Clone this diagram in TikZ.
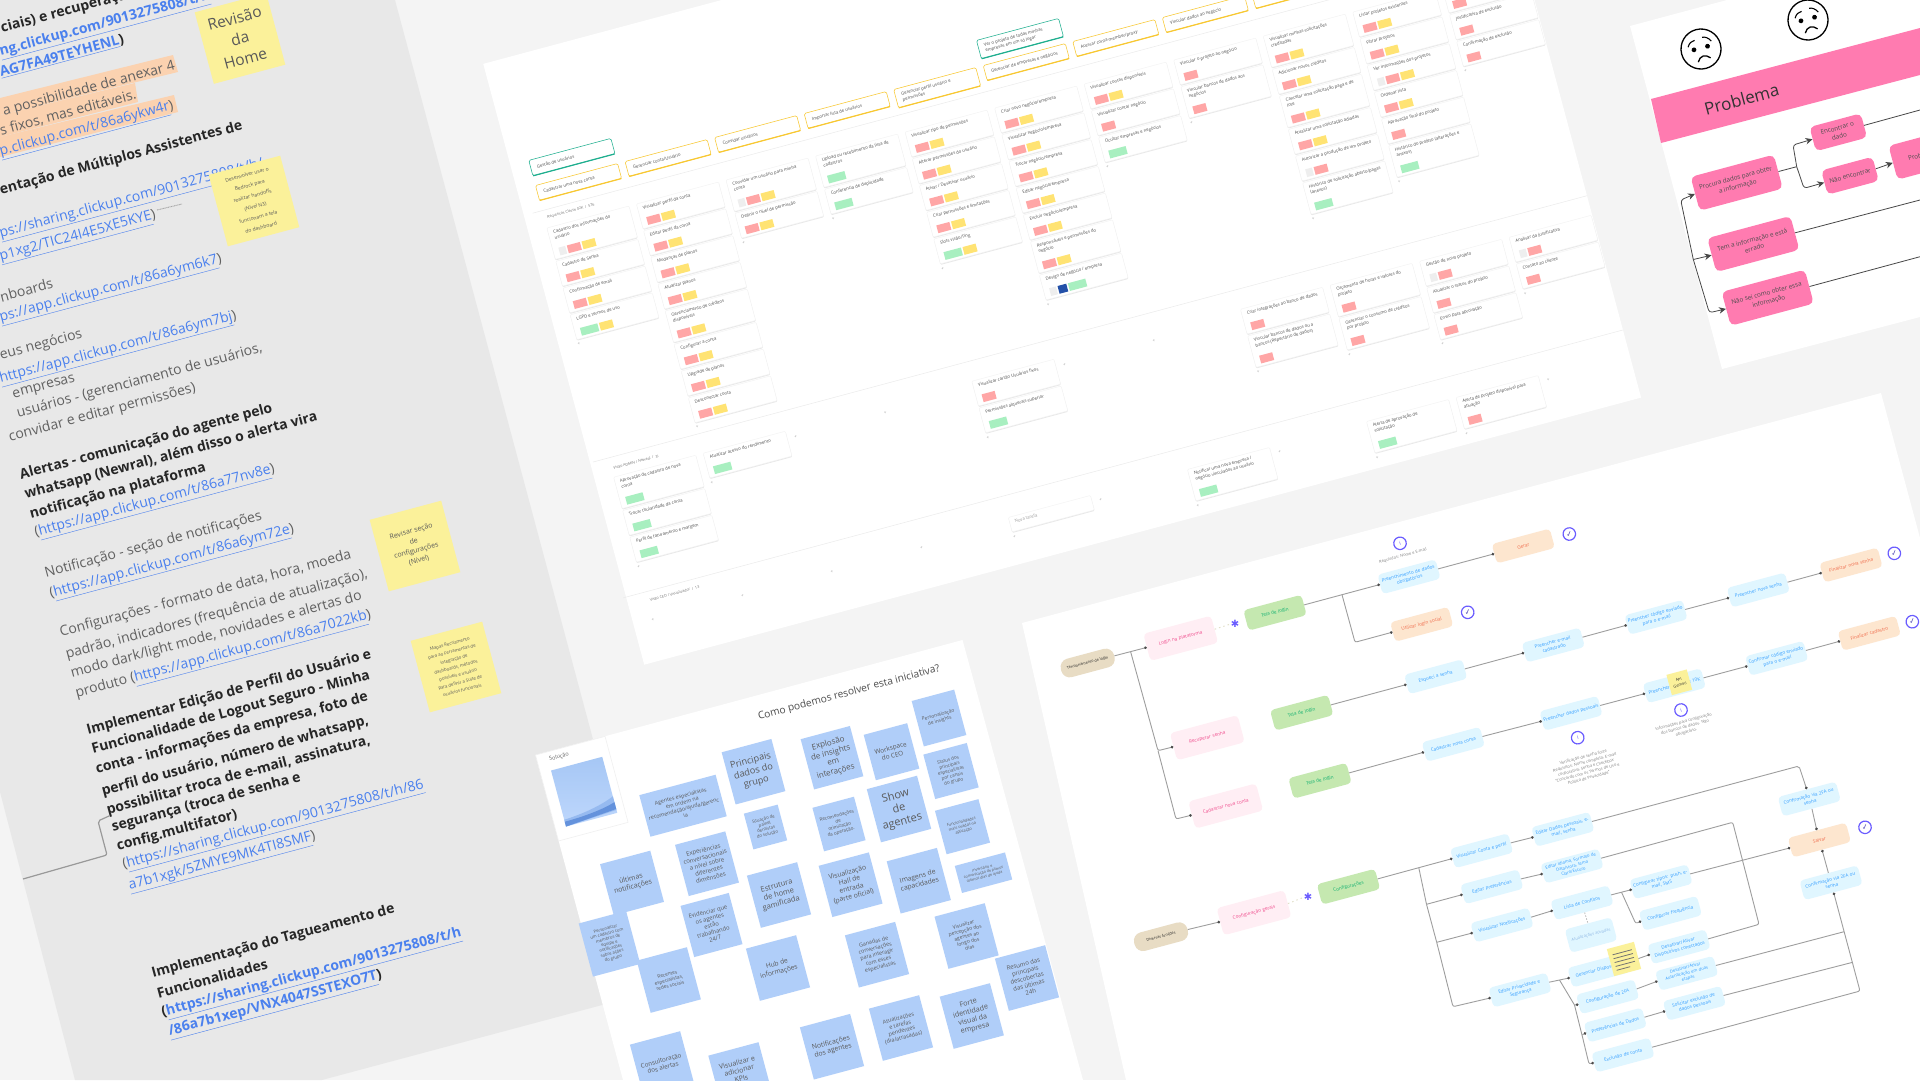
\documentclass[tikz,border=0pt]{standalone}
\usepackage{fontspec}
\setmainfont{Open Sans}
\newfontfamily\djv{DejaVu Sans}
\usetikzlibrary{arrows.meta,calc}
\newcommand\fs[2]{\fontsize{#1}{#2}\selectfont}
\definecolor{bgc}{HTML}{F4F4F4}
\definecolor{docg}{HTML}{E8E8E8}
\definecolor{tred}{HTML}{FFA6A6}
\definecolor{tyel}{HTML}{FFE373}
\definecolor{tgrn}{HTML}{A8EFC0}
\definecolor{tblu}{HTML}{2350A8}
\definecolor{tgry}{HTML}{EEEEEE}
\definecolor{stky}{HTML}{FBF19A}
\definecolor{sblu}{HTML}{B0CEF9}
\definecolor{lnk}{HTML}{4A80EE}
\definecolor{hlo}{HTML}{FBD2B0}
\definecolor{ppk}{HTML}{FF7BB0}
\definecolor{fvio}{HTML}{6A5CFF}
\newcommand\lk[1]{$\underline{\hbox{#1}}$}
\newcounter{dn}\newcounter{kc}\newcounter{bs}\newcounter{kp}
\newcommand\dl[4]{\stepcounter{dn}\node[doctext,#3] (dl\number\value{dn}) at (#1,#2) {#4};}
\newcommand\kcol[2]{\pgfmathparse{92.7*(#1-1)}\xdef\ku{\pgfmathresult}\xdef\kv{#2}}
\newcommand\tagbox[2]{\fill[fill=#1] (\ku+\tx,\ty) rectangle (\ku+\tx+#2,\ty+8);\pgfmathparse{\tx+#2+1.7}\xdef\tx{\pgfmathresult}}
\newcommand\tG{\tagbox{tgry}{7}}
\newcommand\tR{\tagbox{tred}{13.5}}
\newcommand\tY{\tagbox{tyel}{13.5}}
\newcommand\tN{\tagbox{tgrn}{18}}
\newcommand\tB{\tagbox{tblu}{9}}
\newcommand\kcard[3]{\stepcounter{kc}%
\ifcase#1\def\kh{15}\or\def\kh{25.7}\or\def\kh{32.5}\fi
\fill[kshadow] (\ku,\kv+1) rectangle (\ku+85,\kv+\kh+1);
\filldraw[kcardbox] (\ku,\kv) rectangle (\ku+85,\kv+\kh);
\node[ktext] (kt\number\value{kc}) at (\ku+5,\kv+3.5) {#2};
\xdef\tx{6}\pgfmathparse{\kv+\kh-10.5}\xdef\ty{\pgfmathresult}
#3
\pgfmathparse{\kv+\kh+2}\xdef\kv{\pgfmathresult}}
\newcommand\kend{\stepcounter{kp}\node[kplus] (kp\number\value{kp}) at (\ku+1,\kv+3) {+};}
\newcommand\kempty[2]{\kcol{#1}{#2}\kend}
\newcommand\khead[5]{\stepcounter{kc}%
\pgfmathparse{92.7*(#1-1)}\xdef\hu{\pgfmathresult}
\filldraw[headbox,draw=#5] (\hu,#2) rectangle (\hu+85,#2+#3);
\draw[draw=#5,line width=1.2,line cap=round] (\hu+.5,#2+#3) -- (\hu+84.5,#2+#3);
\node[htext] (kh\number\value{kc}) at (\hu+6,#2+#3/2) {#4};}
\newcommand\bst[6]{\stepcounter{bs}\node[bsticky,minimum width=#3,minimum height=#4,font=\fs{#5}{\dimexpr#5pt*6/5\relax}] (bs\number\value{bs}) at (#1,#2) {#6};}
\newcommand\face[3]{\begin{scope}[shift={(#2,#3)},rotate=15]
\draw[line width=1.3,fill=white] (0,0) circle (20);
\fill (-7,-1) circle (2.4); \fill (7,-1) circle (2.4);
\draw[line width=1.1] (-12,-5) .. controls (-10,-9) and (-7,-10) .. (-4,-10);
\draw[line width=1.1] (4,-11) .. controls (7,-11) and (10,-9) .. (12,-5);
\draw[line width=1.3] (-6,12) .. controls (-3,6) and (3,6) .. (7,11);
\node[inner sep=0] (#1) at (0,0) {};
\end{scope}}
\tikzset{
 doctext/.style={anchor=west,rotate=15,inner sep=0,font=\fs{14}{16}},
 dreg/.style={text=black!62},
 dbold/.style={text=black!85,font=\fs{14}{16}\bfseries},
 dlink/.style={text=lnk},
 dblink/.style={text=lnk,font=\fs{14}{16}\bfseries},
 ysticky/.style={rotate=15,fill=stky,minimum width=74,minimum height=74,inner sep=3,align=center,text=black!65},
 kshadow/.style={fill=black!9,rounded corners=1},
 kcardbox/.style={fill=white,draw=black!5,line width=.4,rounded corners=1},
 ktext/.style={anchor=north west,inner sep=0,transform shape,align=left,text=black!70,font=\fs{4.3}{5.8}},
 kplus/.style={inner sep=0,transform shape,text=black!35,font=\fs{4.5}{5}},
 klabel/.style={anchor=west,inner sep=0,transform shape,text=black!55,font=\fs{3.7}{4.5}},
 headbox/.style={fill=white,line width=.55,rounded corners=1.5},
 htext/.style={anchor=west,inner sep=0,transform shape,align=left,text=black!70,font=\fs{4.3}{5.8}},
 bsticky/.style={rotate=15,fill=sblu,inner sep=1,align=center,text=black!65},
 fbase/.style={rotate=15,rounded corners=4,inner sep=.5,align=center,text width=59},
 fpink/.style={fbase,fill={rgb,255:red,255;green,238;blue,244},minimum width=70,minimum height=28,text={rgb,255:red,240;green,72;blue,138},text width=64,font=\fs{4.7}{6}},
 fgreen/.style={fbase,fill={rgb,255:red,197;green,232;blue,176},minimum width=60,minimum height=21,text={rgb,255:red,16;green,176;blue,112},font=\fs{4.7}{6}},
 fblue/.style={fbase,fill={rgb,255:red,224;green,246;blue,255},minimum width=60,minimum height=20,text={rgb,255:red,46;green,155;blue,255},font=\fs{4.6}{6}},
 forange/.style={fbase,fill={rgb,255:red,253;green,230;blue,207},minimum width=60,minimum height=20,text={rgb,255:red,240;green,106;blue,74},font=\fs{4.7}{6}},
 ftan/.style={rotate=15,rounded corners=8.5,fill={rgb,255:red,232;green,220;blue,196},minimum width=55,minimum height=19,inner sep=1,align=center,text=black!85,font=\fs{3.8}{4.6}},
 ficon/.style={rotate=15,circle,draw=fvio,line width=1.2,fill=white,minimum size=12.5,inner sep=0,text=fvio,font=\fs{5.5}{6}},
 fchk/.style={ficon,text=fvio!70!black,font=\djv\bfseries\fs{7.5}{8}},
 fstar/.style={inner sep=0,text=fvio,font=\djv\fs{10}{10}},
 fnote/.style={rotate=15,inner sep=0,align=center,text=black!50,font=\fs{4}{5.4}},
 fl/.style={draw=black!38,line width=.9,rounded corners=2,-{Circle[length=2.6pt,width=2.6pt,color=black!70]}},
 fln/.style={draw=black!38,line width=.9,rounded corners=2},
 fdash/.style={draw=yellow!45!black!25,line width=.9,dash pattern=on 1.5pt off 3pt},
 pnode/.style={rotate=15,fill=ppk,rounded corners=5,minimum width=86,minimum height=35,inner sep=1,align=center,text=black!70,font=\fs{6.3}{8.6}},
 psmall/.style={pnode,minimum width=53,minimum height=25},
 pa/.style={draw=black!72,line width=.8,rounded corners=3,-{Stealth[length=7pt,width=6.5pt]}},
 pl/.style={draw=black!72,line width=.8,rounded corners=3},
}
\begin{document}
\begin{tikzpicture}[x=1pt,y=-1pt]
\useasboundingbox (0,0) rectangle (1920,1080);
\fill[bgc] (0,0) rectangle (1920,1080);
%% ---------- document panel
\fill[docg] (0,0) -- (395,0) -- (660,989.5) -- (322,1080) -- (75,1080) -- (0,792) -- cycle;
\fill[hlo] (0,98) -- (173,55) -- (178,72) -- (0,115) -- cycle;
\fill[hlo] (0,115) -- (135,83) -- (138,102) -- (0,137) -- cycle;
\fill[hlo] (0,137) -- (174,95) -- (178,112) -- (0,157) -- cycle;
\dl{1}{29}{dbold}{ciais) e recuperação}
\dl{0}{53}{dblink}{\lk{ng.clickup.com/9013275808/t/h}}
\dl{0}{73}{dblink}{\lk{AG7FA49TEYHENL}\textcolor{black!85}{)}}
\dl{3}{112}{dreg}{a possibilidade de anexar 4}
\dl{0}{131}{dreg}{s fixos, mas editáveis.}
\dl{0}{153}{dlink}{\lk{p.clickup.com/t/86a6ykw4r}\textcolor{black!62}{)}}
\dl{0}{191}{dbold}{entação de Múltiplos Assistentes de}
\dl{0}{235}{dlink}{\lk{ps://sharing.clickup.com/9013275808/t/h/}}
\dl{0}{258}{dlink}{\lk{p1xg2/TIC24I4E5XE5KYE}\textcolor{black!62}{)}}
\coordinate (smA) at (157,210); \coordinate (smB) at (182,204);
\draw[black!35,line width=.9,dash pattern=on 1pt off .6pt] (smA) -- (smB);
\dl{0}{297}{dreg}{nboards}
\dl{0}{319}{dlink}{\lk{ps://app.clickup.com/t/86a6ym6k7}\textcolor{black!62}{)}}
\dl{0}{356}{dreg}{eus negócios}
\dl{0}{380}{dlink}{\lk{https://app.clickup.com/t/86a6ym7bj}\textcolor{black!62}{)}}
\dl{13}{396}{dreg}{empresas}
\dl{17}{414}{dreg}{usuários - (gerenciamento de usuários,}
\dl{9}{438}{dreg}{convidar e editar permissões)}
\dl{20}{476}{dbold}{Alertas - comunicação do agente pelo}
\dl{25}{495}{dbold}{whatsapp (Newral), além disso o alerta vira}
\dl{30}{515}{dbold}{notificação na plataforma}
\dl{35}{534}{dreg}{(\textcolor{lnk}{\lk{https://app.clickup.com/t/86a77nv8e}})}
\dl{45}{574}{dreg}{Notificação - seção de notificações}
\dl{50}{595}{dreg}{(\textcolor{lnk}{\lk{https://app.clickup.com/t/86a6ym72e}})}
\dl{60}{633}{dreg}{Configurações - formato de data, hora, moeda}
\dl{66}{655}{dreg}{padrão, indicadores (frequência de atualização),}
\dl{71}{674}{dreg}{modo dark/light mode, novidades e alertas do}
\dl{76}{695}{dreg}{produto (\textcolor{lnk}{\lk{https://app.clickup.com/t/86a7022kb}})}
\dl{87}{731}{dbold}{Implementar Edição de Perfil do Usuário e}
\dl{92}{750}{dbold}{Funcionalidade de Logout Seguro - Minha}
\dl{96}{770}{dbold}{conta - informações da empresa, foto de}
\dl{102}{792}{dbold}{perfil do usuário, número de whatsapp,}
\dl{107}{811}{dbold}{possibilitar troca de e-mail, assinatura,}
\dl{112}{828}{dbold}{segurança (troca de senha e}
\dl{117}{847}{dbold}{config.multifator)}
\dl{123}{866}{dreg}{(\textcolor{lnk}{\lk{https://sharing.clickup.com/9013275808/t/h/86}}}
\dl{129}{887}{dlink}{\lk{a7b1xgk/5ZMYE9MK4TI8SMF}\textcolor{black!62}{)}}
\dl{152}{974}{dbold}{Implementação do Tagueamento de}
\dl{157}{993}{dbold}{Funcionalidades}
\dl{162}{1014}{dbold}{(\textcolor{lnk}{\lk{https://sharing.clickup.com/9013275808/t/h}}}
\dl{169}{1033}{dblink}{\lk{/86a7b1xep/VNX4047SSTEXO7T}\textcolor{black!85}{)}}
\coordinate (stepA) at (23,879); \coordinate (stepB) at (107,855); \coordinate (stepC) at (98,821); \coordinate (stepD) at (109,816);
\draw[black!40,line width=1.2,rounded corners=2] (stepA) -- (stepB) -- (stepC) -- (stepD);
\node[ysticky,font=\fs{15.5}{21}] (s1) at (240,38.5) {Revisão\\da\\Home};
\node[ysticky,font=\fs{5}{11}] (s2) at (254,201) {Desenvolver usar o\\Bedrock para\\realizar handoffs\\(Nível N3)\\funcionam a tela\\do dashboard};
\node[ysticky,font=\fs{7}{10}] (s3) at (415,546) {Revisar seção\\de\\configurações\\(Nível)};
\node[ysticky,font=\fs{4.4}{8}] (s4) at (456,667) {Mapas Recriamento\\para ao Ferramentas de\\integração de\\dashboards, métodos\\possíveis e usuário\\para definir a Suite de\\usuários funcionais};
%% ---------- kanban panel
\begin{scope}[shift={(535.5,185.5)},rotate=15]
\fill[white] (-19,-131) rectangle (1013,491);
\draw[black!8,line width=.5] (-10,26) -- (1013,26);
\draw[black!8,line width=.5] (-16,282) -- (1013,282);
\draw[black!8,line width=.5] (-22,421) -- (1013,421);
\definecolor{hy}{HTML}{F8C832}\definecolor{hg}{HTML}{1FAF8F}
\khead{1}{-26}{16}{Gestão de usuários}{hg}
\khead{6}{-26}{19}{Ver o projeto de todas minhas\\empresas em um só lugar}{hg}
\khead{1}{0}{15.5}{Cadastrar uma nova conta}{hy}
\khead{2}{0}{15.5}{Gerenciar conta/Usuário}{hy}
\khead{3}{0}{15.5}{Convidar usuários}{hy}
\khead{4}{0}{15.5}{Importar lista de usuários}{hy}
\khead{5}{0}{19}{Gerenciar perfil usuário e\\permissões}{hy}
\khead{6}{0}{15.5}{Gerenciar de empresas e negócios}{hy}
\khead{7}{0}{15.5}{Acessar conta member/proxy}{hy}
\khead{8}{0}{15.5}{Vincular dados ao negócio}{hy}
\khead{9}{0}{15.5}{}{hy}
\node[klabel] (lab1) at (3,34) {Requisitos Classe 02K \ / \ 576};
\node[klabel] (lab2) at (2,293) {Visão ADMIN / Neweal \ / \ 3i};
\node[klabel] (lab3) at (3,430) {Visão CEO / Visualizador \ / \ 13};
%% row 1
\kcol{1}{44}
\kcard{2}{Cadastro dos informações do\\usuário}{\tG\tR\tY}
\kcard{1}{Cadastro de Senha}{\tR\tY}
\kcard{1}{Confirmação de email}{\tR\tY}
\kcard{1}{LGPD e termos de uso}{\tN\tY}\kend
\kcol{2}{44}
\kcard{1}{Visualizar perfil da conta}{\tR\tY}
\kcard{1}{Editar perfil da conta}{\tR\tY}
\kcard{1}{Mudanças de planos}{\tR\tY}
\kcard{1}{Atualizar planos}{\tR\tY}
\kcard{2}{Gerenciamento de créditos\\disponíveis}{\tR\tY}
\kcard{1}{Configurar a conta}{\tR\tY}
\kcard{1}{Upgrade de planos}{\tR\tY}
\kcard{1}{Desconectar conta}{\tR\tY}\kend
\kcol{3}{44}
\kcard{2}{Convidar um usuário para minha\\conta}{\tG\tR\tY}
\kcard{1}{Definir o nível de permissão}{\tR\tY}\kend
\kcol{4}{44}
\kcard{2}{Upload ou recebimento da lista de\\cadastros}{\tN}
\kcard{1}{Conferencia de duplicidade}{\tN}\kend
\kcol{5}{44}
\kcard{1}{Visualizar tipo de permissões}{\tR\tY}
\kcard{1}{Alterar permissões do usuário}{\tR\tY}
\kcard{1}{Ativar / Desativar usuário}{\tR\tY}
\kcard{1}{Criar permissões e limitações}{\tR\tY}
\kcard{1}{Slots visão/Ting}{\tN\tY}\kend
\kcol{6}{44}
\kcard{1}{Criar novo negócio/empresa}{\tR\tY}
\kcard{1}{Visualizar negócio/empresa}{\tR\tY}
\kcard{1}{Trocar negócio/empresa}{\tR\tY}
\kcard{1}{Editar negócio/empresa}{\tR\tY}
\kcard{1}{Excluir negócio/empresa}{\tR\tY}
\kcard{2}{Responsáveis e permissões do\\negócio}{\tR\tY}
\kcard{1}{Design de negócio / empresa}{\tG\tB\tN}\kend
\kcol{7}{44}
\kcard{1}{Visualizar contas disponíveis}{\tR\tY}
\kcard{1}{Visualizar conta/ negócio}{\tR}
\kcard{1}{Ocultar empresas e negócios}{\tN}\kend
\kcol{8}{44}
\kcard{1}{Vincular o projeto ao negócio}{\tR}
\kcard{2}{Vincular bancos de dados aos\\negócios}{\tR}\kend
\kcol{9}{44}
\kcard{2}{Visualizar minhas solicitações\\creditadas}{\tR\tY}
\kcard{1}{Adicionar novos créditos}{\tR\tY}
\kcard{2}{Cancelar uma solicitação paga e de\\lote}{\tR\tY}
\kcard{1}{Atualizar uma solicitação adiadas}{\tR\tY}
\kcard{1}{Autorizar a produção de um projeto}{\tG\tR}
\kcard{2}{Histórico de solicitação aberto/pagas\\(anexos)}{\tN}\kend
\kcol{10}{44}
\kcard{1}{Listar projetos existentes}{\tR\tY}
\kcard{1}{Filtrar projetos}{\tR\tY}
\kcard{1}{Ver informações dos projetos}{\tG\tR\tY}
\kcard{1}{Ordenar lista}{\tR\tY}
\kcard{1}{Aprovação final do projeto}{\tR}
\kcard{2}{Histórico do projeto (alterações e\\anexos)}{\tN}\kend
\kcol{11}{44}
\kcard{1}{Solicitar exclusão}{\tR}
\kcard{1}{Justificativa de exclusão}{\tR}
\kcard{1}{Confirmação de exclusão}{\tR}\kend
%% row 2
\kcol{1}{302}
\kcard{2}{Aprovação de cadastro de nova\\conta}{\tN}
\kcard{1}{Trocar titularidade da conta}{\tN}
\kcard{1}{Perfil de faturamento e margem}{\tN}\kend
\kcol{2}{302}
\kcard{1}{Atualizar acesso do rendimento}{\tN}\kend
\kempty{3}{307}\kempty{4}{307}
\kcol{5}{302}
\kcard{1}{Visualizar cartão Usuários fixos}{\tR}
\kcard{1}{Permissões alquerais superior}{\tN}\kend
\kempty{6}{307}\kempty{7}{307}
\kcol{8}{302}
\kcard{1}{Criar integrações ao banco de dados}{\tR}
\kcard{2}{Vincular bancos de dados ou a\\bancos (Repertório de dados)}{\tR}\kend
\kcol{9}{302}
\kcard{2}{Orçamento de horas e valores do\\projeto}{\tR}
\kcard{2}{Gerenciar o consumo de créditos\\por projeto}{\tR}\kend
\kcol{10}{302}
\kcard{1}{Gestão de novo projeto}{\tG\tR}
\kcard{1}{Atualizar o status do projeto}{\tR}
\kcard{1}{Envio para aprovação}{\tR}\kend
\kcol{11}{302}
\kcard{1}{Analisar da justificativa}{\tG\tR}
\kcard{1}{Contato ao cliente}{\tR}\kend
%% row 3
\kempty{1}{447}\kempty{2}{447}\kempty{3}{447}\kempty{4}{447}
\kcol{5}{443}
\kcard{0}{\textcolor{black!40}{Nova tarefa}}{}\kend
\kempty{6}{447}
\kcol{7}{443}
\kcard{2}{Notificar uma nova empresa /\\negócio vinculados ao usuário}{\tN}\kend
\kempty{8}{447}
\kcol{9}{443}
\kcard{2}{Alerta de aprovação de\\solicitação}{\tN}\kend
\kcol{10}{443}
\kcard{2}{Alerta de projeto disponível para\\ativação}{\tR}\kend
\kempty{11}{447}
\end{scope}
%% ---------- solution panel
\fill[white] (535.5,755) -- (962.5,640) -- (1083,1080) -- (623,1080) -- cycle;
\begin{scope}[shift={(535.5,755)},rotate=15]
\draw[black!6,line width=.6,fill=white] (0,0) rectangle (72,89);
\node[anchor=west,inner sep=0,transform shape,text=black!60,font=\fs{5.5}{6}] (solab) at (12,8) {Solução};
\begin{scope}[shift={(11,19)}]
\shade[top color={rgb,255:red,166;green,199;blue,245},bottom color={rgb,255:red,190;green,215;blue,252}] (0,0) rectangle (53,58);
\fill[fill={rgb,255:red,150;green,186;blue,240}] (0,51) .. controls (20,50) and (38,47) .. (53,41) -- (53,55) -- (0,58) -- cycle;
\fill[fill={rgb,255:red,100;green,146;blue,220}] (0,53) .. controls (20,53) and (40,51) .. (53,47) -- (53,54) -- (0,58) -- cycle;
\end{scope}
\end{scope}
\node[rotate=15,inner sep=0,text=black!70,font=\fs{10.2}{12}] (sotitle) at (849,693) {Como podemos resolver esta iniciativa?};
\bst{683}{805.7}{79}{43}{5.4}{Agentes especialistas\\em ordem na\\recomendação/ajuda/gerenc\\ia}
\bst{753.5}{771.7}{51.5}{54}{9.2}{Principais\\dados do\\grupo}
\bst{832}{757.7}{51}{52}{8}{Explosão\\de insights\\em\\interações}
\bst{891.5}{751.7}{45}{47}{6.4}{Workspace\\do CEO}
\bst{939}{718}{44}{47}{4.8}{Personalização\\de insights}
\bst{951}{771}{45}{46}{4.6}{Status dos\\principais\\especialistas\\por canais\\do grupo}
\bst{765.5}{827}{35}{37}{4.3}{Situação de\\painel\\dentistas\\do solução}
\bst{839}{824}{43}{45}{4.6}{Recomendações\\de\\otimização\\da operação.}
\bst{899}{809}{52}{55}{11}{Show\\de\\agentes}
\bst{962.5}{826.7}{45}{45}{3.9}{Funcionalidades\\mais usadas na\\aplicação}
\bst{707}{863.7}{52}{53}{6}{Experiências\\conversacionais\\a nível sobre\\diferentes\\dimensões}
\bst{779}{895}{52}{54}{7.5}{Estrutura\\de home\\gamificada}
\bst{850.6}{884.7}{52}{53}{6.8}{Visualização\\Hall de\\entrada\\(parte oficial)}
\bst{918.8}{880.7}{52}{54}{6.8}{Imagens de\\capacidades}
\bst{983.5}{872.7}{52}{28}{3.7}{Inventário e\\comunicação de planos\\últimos dias de ajuda}
\bst{632}{883}{52}{53}{7}{últimas\\notificações}
\bst{609.5}{943.7}{49}{55}{4.2}{Personalizar\\um cadastro com\\membros de\\equipe e\\notificações\\sobre ações\\do grupo}
\bst{711.5}{925}{50}{53}{5.8}{Evidenciar que\\os agentes\\estão\\trabalhando\\24/7}
\bst{778}{968}{52}{54}{6.6}{Hub de\\informações}
\bst{877}{954.7}{52}{54}{5.4}{Ganadas de\\conversações\\para interagir\\com esses\\especialistas}
\bst{966.6}{936}{52}{54}{5}{Visualizar\\percepção dos\\agentes ao\\longo dos\\dias}
\bst{668.8}{980}{52}{54}{4.8}{Recentes\\especialistas,\\redes sociais}
\bst{1027}{978}{52}{54}{6}{Resumo das\\principais\\descobertas\\das últimas\\24h}
\bst{971.8}{1016}{52}{54}{7.2}{Forte\\identidade\\visual da\\empresa}
\bst{901}{1028}{52}{54}{5.5}{Atualizações\\e tarefas\\pendentes\\(dia/atrasadas)}
\bst{832}{1046.7}{52}{54}{6.8}{Notificações\\dos agentes}
\bst{662}{1064}{52}{54}{6.2}{Consultoração\\dos alertas}
\bst{740.4}{1075}{52}{54}{7}{Visualizar e\\adicionar\\KPIs\\(metas)}
%% ---------- flow panel
\fill[white] (1022,623) -- (1881,393) -- (1920,538) -- (1920,1080) -- (1126,1080) -- cycle;
\node[ftan] (A) at (1087.7,663) {Tensionamento de login};
\node[fpink] (B) at (1180.7,638.3) {Login na plataforma};
\node[fstar] (st1) at (1235,624) {✱};
\node[fgreen] (C) at (1275,612.7) {Tela de login};
\node[fblue] (D) at (1409,576.7) {Preenchimento de dados\\obrigatórios};
\node[forange] (E) at (1421.7,624.3) {Utilizar login social};
\node[fblue] (F) at (1435.7,676.7) {Esqueci a senha};
\node[fgreen] (G) at (1301.7,712.7) {Tela de login};
\node[fpink] (H) at (1207.3,737.7) {Recuperar senha};
\node[fgreen] (I) at (1320,780.7) {Tela de login};
\node[fpink] (J) at (1225.7,806) {Cadastrar nova conta};
\node[fblue] (K) at (1453.3,744.3) {Cadastrar nova conta};
\node[ficon] (ic1) at (1400,543.3) {i};
\node[fnote] (nt1) at (1403,556) {Requisitos: Nome e E-mail};
\node[fchk] (ic2) at (1467.7,612.3) {✓};
\node[forange] (Ger) at (1523.3,546) {Gerar};
\node[fchk] (ic3) at (1569.3,534) {✓};
\node[fblue] (P1) at (1553.3,645) {Preencher e-mail\\cadastrado};
\node[fblue] (P2) at (1656,617.3) {Preencher código enviado\\para o e-mail};
\node[fblue] (P3) at (1758.3,590) {Preencher nova senha};
\node[forange] (P4) at (1851,565) {Finalizar nova senha};
\node[fchk] (ic4) at (1894.3,553.3) {✓};
\node[fblue] (Q1) at (1571,713.3) {Preencher dados pessoais};
\node[fblue] (Q2) at (1674.3,685.7) {Preencher dados de 10K};
\node[fblue] (Q3) at (1776.7,658.3) {Confirmar código enviado\\para o e-mail};
\node[forange] (Q4) at (1869.3,633.3) {Finalizar cadastro};
\node[fchk] (ic5) at (1912.3,621.7) {✓};
\node[rotate=15,fill=stky,minimum width=21,minimum height=21,inner sep=0,align=center,text=black!80,font=\fs{4}{5.5}] (ys1) at (1679.3,682.3) {API\\Gemini};
\node[ficon] (ic6) at (1577.7,737.7) {i};
\node[fnote] (nt2) at (1586,767.3) {Verificação de senha forte\\Requisitos: Nome completo, E-mail\\corporativo, Senha e Checkbox\\"Concordo com os Termos de Uso e\\Política de Privacidade"};
\node[ficon] (ic7) at (1681,710) {i};
\node[fnote] (nt3) at (1685,727.3) {Informações para configuração\\dos bancos de dados. Não\\obrigatório.};
\node[fblue] (Cf1) at (1809.3,799) {Confirmação via 2FA ou\\senha};
\node[forange] (Sal) at (1819.4,840) {Salvar};
\node[fchk] (ic8) at (1865,827.3) {✓};
\node[fblue] (Cf2) at (1831,882.7) {Confirmação via 2FA ou\\senha};
\node[ftan] (T2) at (1161,936.7) {Diversas funções};
\node[fpink] (B2) at (1254,912.7) {Configuração gerais};
\node[fstar] (st2) at (1308,897.3) {✱};
\node[fgreen] (C2) at (1348.5,886.7) {Configurações};
\node[fblue] (V1) at (1481.6,850.7) {Visualizar Conta e perfil};
\node[fblue] (V2) at (1491.8,886.7) {Editar Preferências};
\node[fblue] (V3) at (1502,925) {Visualizar Notificações};
\node[fblue] (V4) at (1520,990) {Editar Privacidade e\\Segurança};
\node[fblue] (W1) at (1562.8,829.3) {Editar Dados pessoais, e-\\mail, senha};
\node[fblue,font=\fs{4.2}{5.4}] (W2) at (1572,866) {Editar idioma, Formato de\\Data/Hora, tema\\Claro/Escuro};
\node[fblue] (W3) at (1582,902.7) {Lista de Conflitos};
\node[fblue,minimum width=48,minimum height=24,text width=42,text=cyan!60!blue!45!white,font=\fs{4}{5}] (W4) at (1591,935) {Atualizações ativadas};
\node[fblue] (W5) at (1599,970) {Gerenciar Dispositivos};
\node[fblue] (W6) at (1607.6,996.7) {Configuração de 2FA};
\node[fblue] (W7) at (1615.3,1025) {Preferências de Dados};
\node[fblue] (W8) at (1623,1055) {Exclusão de conta};
\node[fblue] (X1) at (1661,881.7) {Configurar tipos: push, e-\\mail, SMS};
\node[fblue] (X2) at (1670.4,913.3) {Configurar frequência};
\node[fblue] (X3) at (1679,946.7) {Desativar/Ativar\\Dispositivos conectados};
\node[fblue,font=\fs{4.2}{5.4}] (X4) at (1686.7,973.3) {Desativar/Ativar\\Autenticação em duas\\etapas};
\node[fblue] (X5) at (1694.4,1003.3) {Solicitar exclusão de\\dados pessoais};
%% connectors top flow
\draw[fl] (A.east) -- (B.west);
\coordinate (e1) at ($(A.east)!.5!(B.west)$);
\coordinate (e2) at (1158,750.7); \coordinate (e3) at (1176,819);
\draw[fl] (e1) -- (e2) -- (H.west);
\draw[fl] (e2) -- (e3) -- (J.west);
\draw[fdash] (B.east) -- (st1.west);
\draw[fl] (C.east) -- (D.west);
\coordinate (e4) at ($(C.east)!.5!(D.west)$); \coordinate (e5) at (1355,642.3);
\draw[fl] (e4) -- (e5) -- (E.west);
\draw[fl] (D.east) -- (Ger.west);
\draw[fl] (G.east) -- (F.west);
\draw[fl] (F.east) -- (P1.west);
\draw[fl] (P1.east) -- (P2.west);
\draw[fl] (P2.east) -- (P3.west);
\draw[fl] (P3.east) -- (P4.west);
\draw[fl] (I.east) -- (K.west);
\draw[fl] (K.east) -- (Q1.west);
\draw[fl] (Q1.east) -- (Q2.west);
\draw[fl] (Q2.east) -- (Q3.west);
\draw[fl] (Q3.east) -- (Q4.west);
%% connectors bottom flow
\draw[fl] (T2.east) -- (B2.west);
\draw[fdash] (B2.east) -- (st2.west);
\draw[fl] (C2.east) -- (V1.west);
\coordinate (g1) at ($(C2.east)!.55!(V1.west)$);
\coordinate (g2) at (1426.5,904.3); \coordinate (g3) at (1436.7,942.3); \coordinate (g4) at (1453,1006.7);
\draw[fln] (g1) -- (g2);
\draw[fl] (g2) -- (V2.west);
\draw[fln] (g2) -- (g3);
\draw[fl] (g3) -- (V3.west);
\draw[fl] (g3) -- (g4) -- (V4.west);
\draw[fl] (V1.east) -- (W1.west);
\draw[fl] (V2.east) -- (W2.west);
\draw[fl] (V3.east) -- (W3.west);
\draw[fl] (V4.east) -- (W5.west);
\coordinate (h1) at ($(V4.east)!.5!(W5.west)$);
\coordinate (h2) at (1574.5,1005); \coordinate (h3) at (1582,1035); \coordinate (h4) at (1589,1064);
\draw[fln] (h1) -- (h2);
\draw[fl] (h2) -- (W6.west);
\draw[fln] (h2) -- (h3);
\draw[fl] (h3) -- (W7.west);
\draw[fl] (h3) -- (h4) -- (W8.west);
\coordinate (k1) at (1799,766);
\draw[fl] (W1.east) -- (k1) -- (Cf1.north);
\draw[fl] (Cf1.south) -- (Sal.north);
\draw[fl] (Cf2.north) -- (Sal.south);
\coordinate (k2) at (1732.7,822.3); \coordinate (k3) at (1759,924.3);
\draw[fln] (W2.east) -- (k2) -- (k3) -- (X3.east);
\draw[fl] (W3.east) -- (X1.west);
\coordinate (m1) at ($(W3.east)!.5!(X1.west)$); \coordinate (m2) at (1635.7,923.5);
\draw[fl] (m1) -- (m2) -- (X2.west);
\draw[fl] (X1.east) -- (Sal.west);
\draw[black!30,line width=.7,dash pattern=on 1.5pt off 1.5pt] (W3.south) -- (W4.north);
\draw[fl] (W5.east) -- (X3.west);
\draw[fl] (W6.east) -- (X4.west);
\draw[fl] (W7.east) -- (X5.west);
\coordinate (n1) at (1860,991);
\draw[fl] (W8.east) -- (n1) -- (Cf2.south);
\coordinate (n2) at (1844,931.7); \coordinate (n3) at (1852.6,962.3);
\draw[fln] (X4.east) -- (n2);
\draw[fln] (X5.east) -- (n3);
%% yellow sticky with lines above node
\node[rotate=15,fill=stky,minimum width=28,minimum height=28,inner sep=0] (ys2) at (1624,959) {};
\begin{scope}[shift={(ys2.center)},rotate=15]
\draw[black!55,line width=.8] (-10,-7) -- (10,-7) (-10,-3) -- (10,-3) (-10,1) -- (10,1) (-10,5) -- (10,5) (-10,9) -- (4,9);
\end{scope}
%% ---------- problem panel
\fill[white] (1630,26) -- (1727,0) -- (1920,0) -- (1920,317) -- (1722,369) -- cycle;
\fill[ppk] (1651,99) -- (1920,28) -- (1920,75) -- (1661,143) -- cycle;
\face{fc1}{1701}{49}
\face{fc2}{1808}{20}
\node[rotate=15,inner sep=0,text=black!80,font=\fs{17}{20}] (pt) at (1741.7,99.3) {Problema};
\node[pnode] (P) at (1736.7,182.7) {Procura dados para obter\\a informação};
\node[psmall] (Pe) at (1838.3,132.3) {Encontrar o\\dado};
\node[psmall] (Pn) at (1850,175.7) {Não encontrar};
\node[pnode,minimum width=60] (Pb) at (1922,155) {Problema};
\node[pnode] (Pt) at (1753.3,244) {Tem a informação e está\\errado};
\node[pnode] (Ps) at (1767.7,297.7) {Não sei como obter essa\\informação};
\coordinate (p0) at (1693.3,259.5);
\coordinate (pu) at (1680.7,200); \coordinate (pd) at (1709.3,312.7);
\draw[pa] (p0) -- (Pt.west);
\draw[pa] (p0) -- (pu) -- (P.west);
\draw[pa] (p0) -- (pd) -- (Ps.west);
\coordinate (q0) at (1796.7,166.7);
\coordinate (qu) at (1793,145); \coordinate (qd) at (1804,188.3);
\draw[pl] (P.east) -- (q0);
\draw[pa] (q0) -- (qu) -- (Pe.west);
\draw[pa] (q0) -- (qd) -- (Pn.west);
\draw[pa] (Pn.east) -- (Pb.west);
\coordinate (r1) at (1920,110); \coordinate (r2) at (1920,200); \coordinate (r3) at (1920,256.7);
\draw[pl] (Pe.east) -- (r1);
\draw[pl] (Pt.east) -- (r2);
\draw[pl] (Ps.east) -- (r3);
\end{tikzpicture}
\end{document}
